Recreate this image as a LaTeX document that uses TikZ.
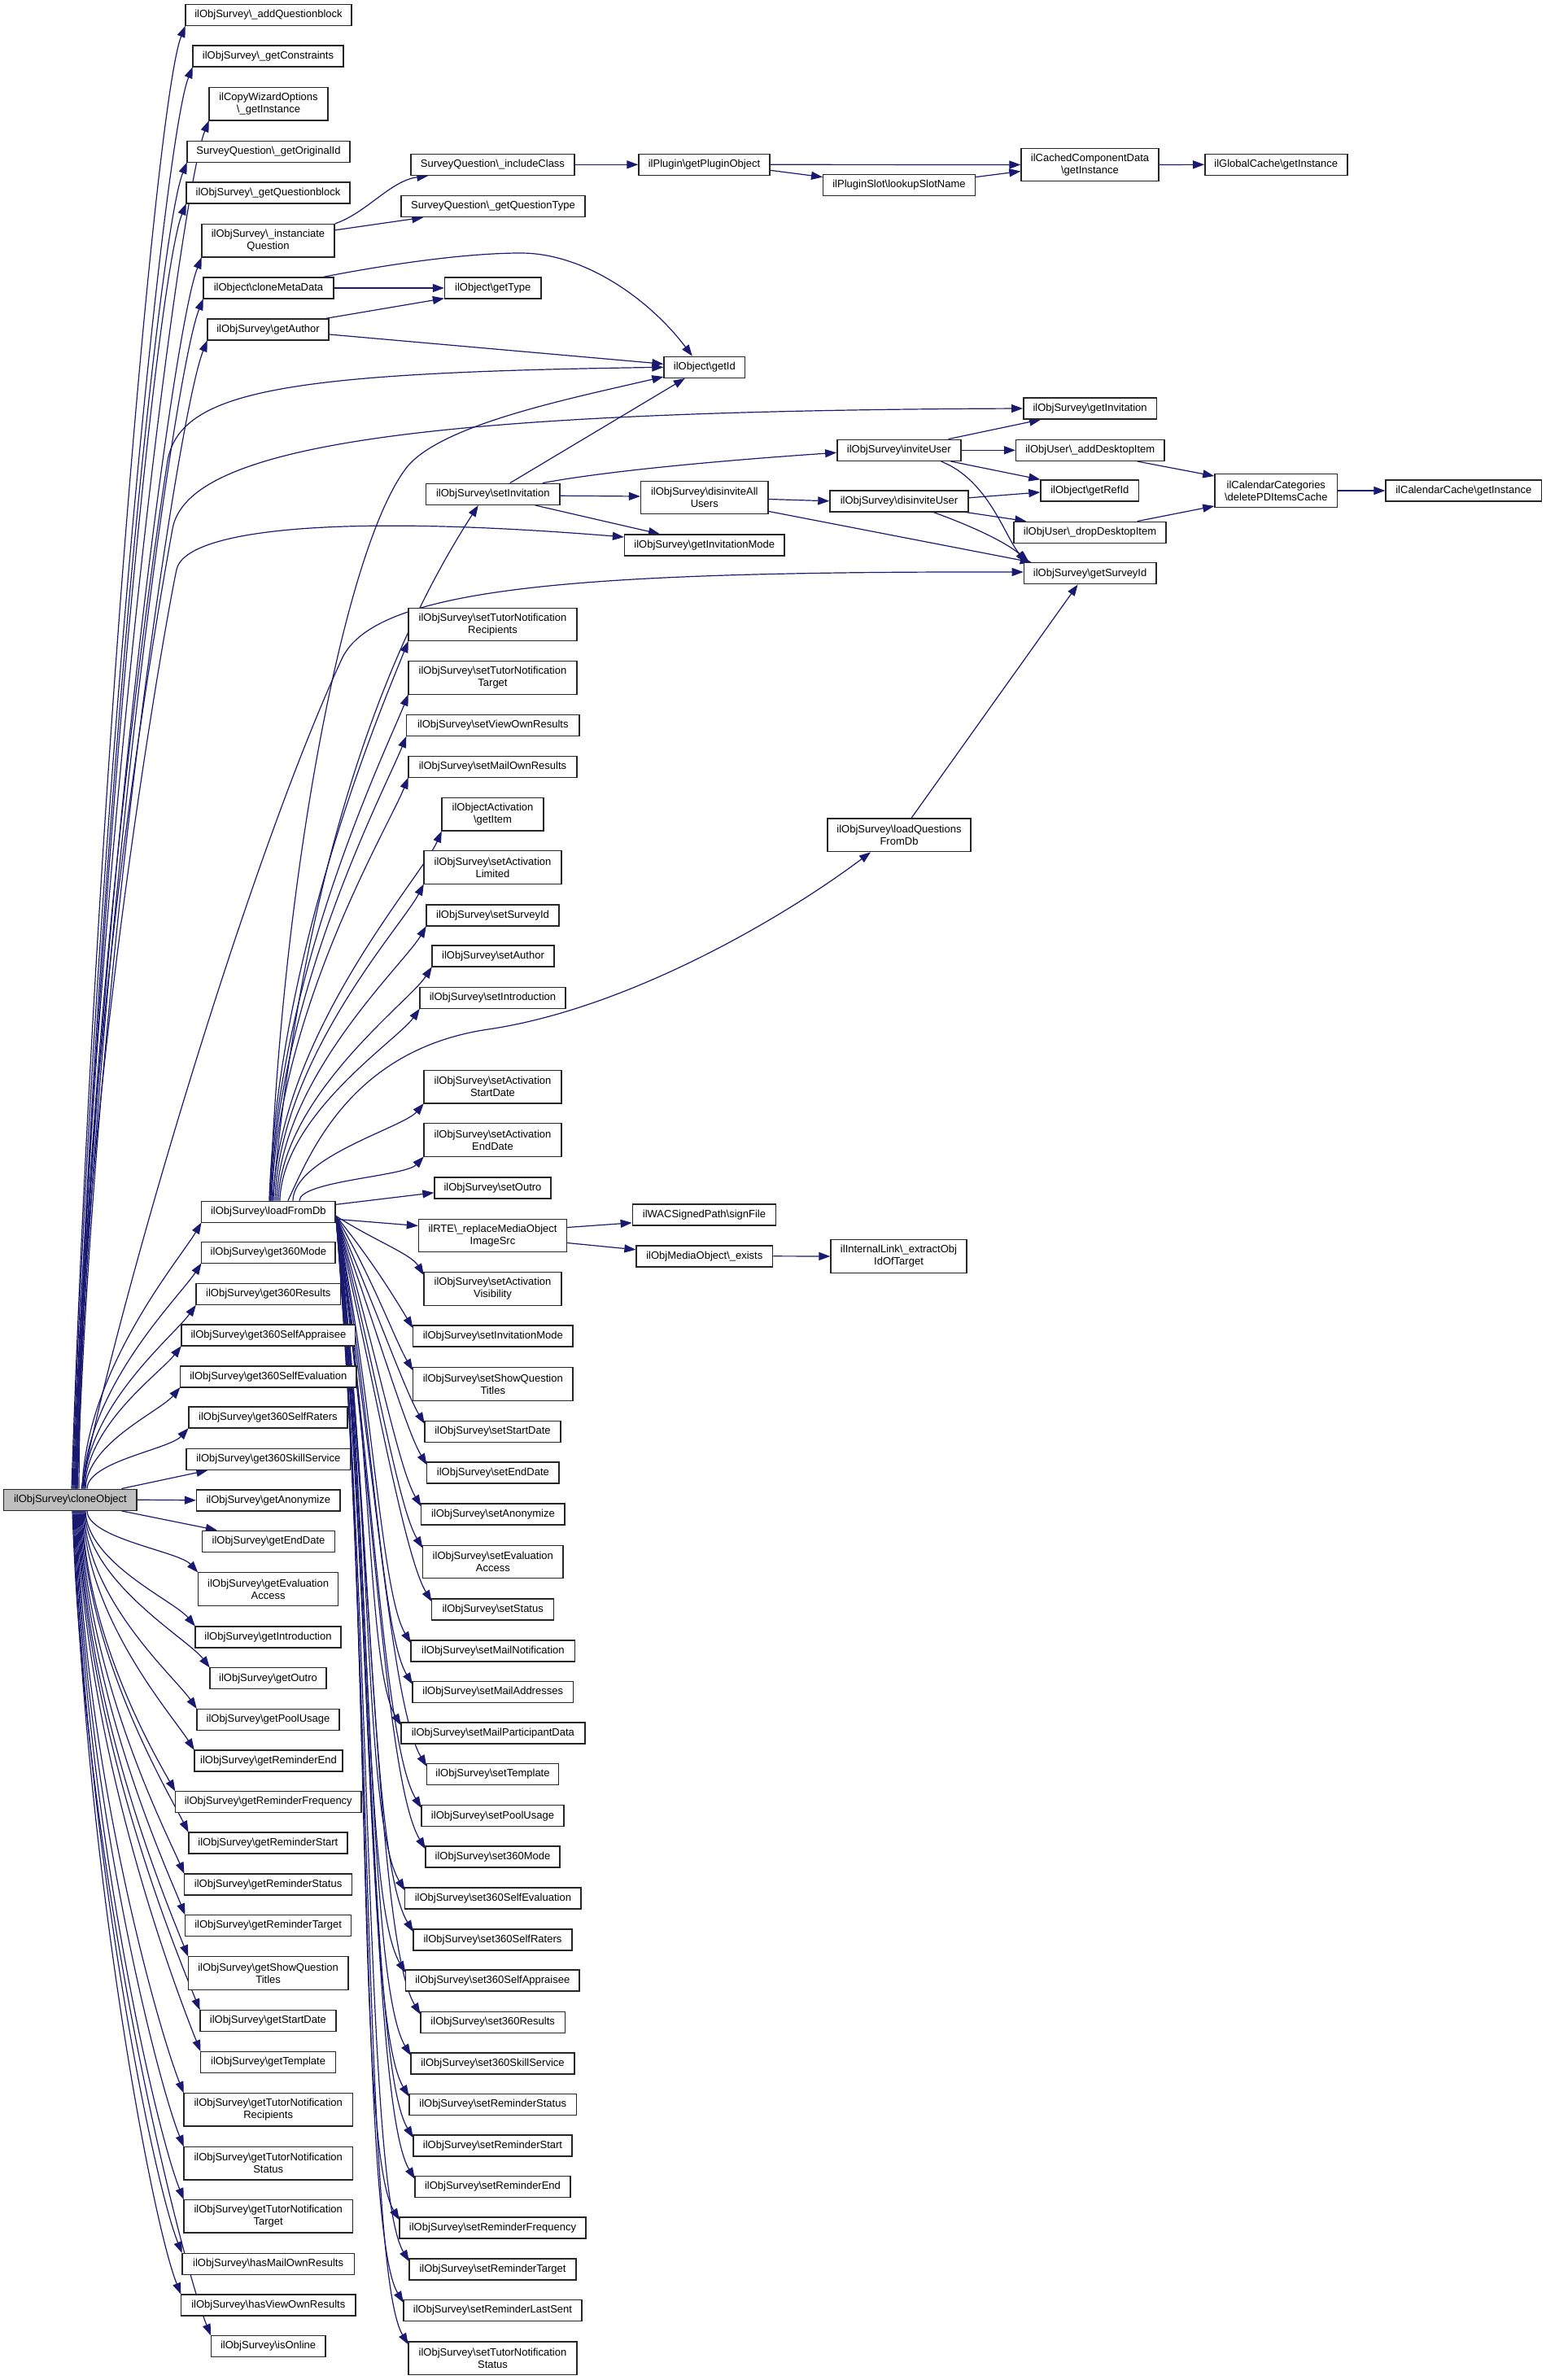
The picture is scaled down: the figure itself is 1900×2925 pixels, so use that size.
\documentclass[tikz,border=0pt]{standalone}
\usepackage{fontspec}
\setmainfont{Liberation Sans}
\usetikzlibrary{arrows.meta,calc}
\pgfdeclarelayer{back}
\pgfdeclarelayer{edges}
\pgfsetlayers{back,edges,main}
\newcommand{\bsl}{\textbackslash}
\definecolor{edgec}{HTML}{191970}
\newcommand{\upE}[2]{\draw[dedge] let \p1=(#1), \p2=([xshift=0.5pt,yshift=0.5pt]#2.south west), \n1={\y2-\y1}, \n2={min(0.08*\n1+20,90)}, \n3={max(0.4,1-\n1/800)} in (\p1) .. controls ({\x1+0.015*\n1},{\y1+0.45*\n1}) and ({\x2-\n3*\n2},{\y2-\n2}) .. (\p2);}
\newcommand{\dnE}[2]{\draw[dedge] let \p1=(#1), \p2=([xshift=0.5pt,yshift=-0.5pt]#2.north west), \n1={\y1-\y2}, \n2={min(0.08*\n1+20,90)}, \n3={max(0.4,1-\n1/800)} in (\p1) .. controls ({\x1+0.015*\n1},{\y1-0.45*\n1}) and ({\x2-\n3*\n2},{\y2+\n2}) .. (\p2);}
\newcommand{\dnF}[2]{\draw[dedge] let \p1=(#1), \p2=([xshift=0.5pt,yshift=-4pt]#2.north west), \n1={\y1-\y2}, \n2={min(0.08*\n1+20,90)} in (\p1) .. controls ({\x1+45},{\y1-0.4*\n1}) and ({\x2-0.6*\n2},{\y2+\n2}) .. (\p2);}
\begin{document}
\begin{tikzpicture}[x=1pt,y=1pt,
  nb/.style={draw=black!85, line width=1.4pt, fill=white, rectangle, inner sep=0pt, minimum height=26pt, align=center, font=\fontsize{13}{15}\selectfont},
  nb2/.style={nb, minimum height=40.5pt},
  dedge/.style={draw=edgec, line width=1.2pt, -{Triangle[length=14pt,width=10pt]}}]
\begin{pgfonlayer}{back}
\fill[white] (0,0) rectangle (1900,-2925);
\end{pgfonlayer}
\useasboundingbox (0,0) rectangle (1900,-2925);
% column 0
\node[nb, fill=black!25, minimum width=163.3pt] (clone) at (86.4,-1843.2) {ilObjSurvey\bsl cloneObject};
% column 1
\node[nb, minimum width=204pt] (aqb) at (330,-18.6) {ilObjSurvey\bsl\_addQuestionblock};
\node[nb, minimum width=185pt] (gcon) at (329.5,-69) {ilObjSurvey\bsl\_getConstraints};
\node[nb2, minimum width=146pt] (cwo) at (330,-127.8) {ilCopyWizardOptions\\\bsl\_getInstance};
\node[nb, minimum width=200pt] (goi) at (330,-186.3) {SurveyQuestion\bsl\_getOriginalId};
\node[nb, minimum width=201pt] (gqb) at (329.5,-237) {ilObjSurvey\bsl\_getQuestionblock};
\node[nb2, minimum width=163pt] (iq) at (329.5,-295.8) {ilObjSurvey\bsl\_instanciate\\Question};
\node[nb, minimum width=160pt] (cmd) at (330,-354) {ilObject\bsl cloneMetaData};
\node[nb, minimum width=149pt] (gau) at (329.5,-405) {ilObjSurvey\bsl getAuthor};
\node[nb, minimum width=164.3pt] (lfd) at (329.9,-1489.3) {ilObjSurvey\bsl loadFromDb};
\node[nb, minimum width=164.3pt] (g360m) at (329.9,-1539.2) {ilObjSurvey\bsl get360Mode};
\node[nb, minimum width=177.5pt] (g360r) at (329.8,-1590.6) {ilObjSurvey\bsl get360Results};
\node[nb, minimum width=213.7pt] (g360sa) at (329.9,-1641) {ilObjSurvey\bsl get360SelfAppraisee};
\node[nb, minimum width=216.4pt] (g360se) at (329.8,-1691.8) {ilObjSurvey\bsl get360SelfEvaluation};
\node[nb, minimum width=195.2pt] (g360sr) at (329.4,-1742) {ilObjSurvey\bsl get360SelfRaters};
\node[nb, minimum width=201.6pt] (g360ss) at (329.8,-1793.3) {ilObjSurvey\bsl get360SkillService};
\node[nb, minimum width=176.4pt] (gano) at (329.8,-1843.8) {ilObjSurvey\bsl getAnonymize};
\node[nb, minimum width=163pt] (gend) at (330,-1894.3) {ilObjSurvey\bsl getEndDate};
\node[nb2, minimum width=172.2pt] (gea) at (329.6,-1953) {ilObjSurvey\bsl getEvaluation\\Access};
\node[nb, minimum width=179pt] (gintro) at (329.5,-2011.8) {ilObjSurvey\bsl getIntroduction};
\node[nb, minimum width=143pt] (gout) at (329.5,-2062.7) {ilObjSurvey\bsl getOutro};
\node[nb, minimum width=175pt] (gpool) at (329.5,-2113.2) {ilObjSurvey\bsl getPoolUsage};
\node[nb, minimum width=182pt] (grend) at (330,-2164) {ilObjSurvey\bsl getReminderEnd};
\node[nb, minimum width=228.5pt] (grfreq) at (329.8,-2214.6) {ilObjSurvey\bsl getReminderFrequency};
\node[nb, minimum width=195.2pt] (grstart) at (329.4,-2265) {ilObjSurvey\bsl getReminderStart};
\node[nb, minimum width=205.8pt] (grstat) at (329.6,-2316) {ilObjSurvey\bsl getReminderStatus};
\node[nb, minimum width=203.9pt] (grtarg) at (329.6,-2366.6) {ilObjSurvey\bsl getReminderTarget};
\node[nb2, minimum width=196.4pt] (gsqt) at (329.6,-2425) {ilObjSurvey\bsl getShowQuestion\\Titles};
\node[nb, minimum width=167.2pt] (gsd) at (329.4,-2483.6) {ilObjSurvey\bsl getStartDate};
\node[nb, minimum width=165.8pt] (gtpl) at (329.6,-2534.4) {ilObjSurvey\bsl getTemplate};
\node[nb2, minimum width=207.4pt] (gtnr) at (329.7,-2592.8) {ilObjSurvey\bsl getTutorNotification\\Recipients};
\node[nb2, minimum width=207.4pt] (gtns) at (329.7,-2658.7) {ilObjSurvey\bsl getTutorNotification\\Status};
\node[nb2, minimum width=207.4pt] (gtnt) at (329.7,-2723.6) {ilObjSurvey\bsl getTutorNotification\\Target};
\node[nb, minimum width=211.3pt] (hmor) at (329.6,-2782.2) {ilObjSurvey\bsl hasMailOwnResults};
\node[nb, minimum width=214.5pt] (hvor) at (329.8,-2832.8) {ilObjSurvey\bsl hasViewOwnResults};
\node[nb, minimum width=140.7pt] (isol) at (329.6,-2883.5) {ilObjSurvey\bsl isOnline};
% column 2
\node[nb, minimum width=201pt] (sqic) at (605.5,-202.3) {SurveyQuestion\bsl\_includeClass};
\node[nb, minimum width=226pt] (sqgt) at (606,-253.5) {SurveyQuestion\bsl\_getQuestionType};
\node[nb, minimum width=118.5pt] (gtype) at (605.8,-354) {ilObject\bsl getType};
\node[nb, minimum width=164.5pt] (sinv) at (605.8,-607.3) {ilObjSurvey\bsl setInvitation};
\node[nb2, minimum width=207pt] (stnr) at (605.5,-767.5) {ilObjSurvey\bsl setTutorNotification\\Recipients};
\node[nb2, minimum width=207pt] (stnt) at (605.5,-833) {ilObjSurvey\bsl setTutorNotification\\Target};
\node[nb, minimum width=212.5pt] (svor) at (605.8,-891.6) {ilObjSurvey\bsl setViewOwnResults};
\node[nb, minimum width=207pt] (smor) at (605.5,-942.3) {ilObjSurvey\bsl setMailOwnResults};
\node[nb2, minimum width=125pt] (oagi) at (605.5,-1000.9) {ilObjectActivation\\\bsl getItem};
\node[nb2, minimum width=169pt] (sal) at (605.5,-1066) {ilObjSurvey\bsl setActivation\\Limited};
\node[nb, minimum width=163pt] (ssid) at (605.5,-1125) {ilObjSurvey\bsl setSurveyId};
\node[nb, minimum width=150pt] (sauth) at (606,-1175) {ilObjSurvey\bsl setAuthor};
\node[nb, minimum width=179pt] (sintro) at (605.5,-1226.5) {ilObjSurvey\bsl setIntroduction};
\node[nb2, minimum width=169pt] (sasd) at (605.5,-1335.7) {ilObjSurvey\bsl setActivation\\StartDate};
\node[nb2, minimum width=169pt] (saed) at (605.5,-1401) {ilObjSurvey\bsl setActivation\\EndDate};
\node[nb, minimum width=143pt] (sout) at (605.5,-1459.8) {ilObjSurvey\bsl setOutro};
\node[nb2, minimum width=182pt] (rte) at (605.5,-1518.5) {ilRTE\bsl\_replaceMediaObject\\ImageSrc};
\node[nb2, minimum width=169pt] (sav) at (605.5,-1584) {ilObjSurvey\bsl setActivation\\Visibility};
\node[nb, minimum width=196.5pt] (sim) at (605.8,-1641.8) {ilObjSurvey\bsl setInvitationMode};
\node[nb2, minimum width=196.5pt] (ssqt) at (605.8,-1701) {ilObjSurvey\bsl setShowQuestion\\Titles};
\node[nb, minimum width=167pt] (ssd) at (605.5,-1759.6) {ilObjSurvey\bsl setStartDate};
\node[nb, minimum width=162.3pt] (sed) at (605.9,-1810) {ilObjSurvey\bsl setEndDate};
\node[nb, minimum width=176.3pt] (sano) at (605.9,-1861) {ilObjSurvey\bsl setAnonymize};
\node[nb2, minimum width=172.4pt] (sea) at (605.8,-1919.5) {ilObjSurvey\bsl setEvaluation\\Access};
\node[nb, minimum width=150pt] (sstat) at (605.7,-1978) {ilObjSurvey\bsl setStatus};
\node[nb, minimum width=201.7pt] (smn) at (605.9,-2028.9) {ilObjSurvey\bsl setMailNotification};
\node[nb, minimum width=197.4pt] (sma) at (605.7,-2079.5) {ilObjSurvey\bsl setMailAddresses};
\node[nb, minimum width=225.8pt] (smpd) at (605.9,-2130) {ilObjSurvey\bsl setMailParticipantData};
\node[nb, minimum width=162pt] (stpl) at (605.5,-2180.5) {ilObjSurvey\bsl setTemplate};
\node[nb, minimum width=175pt] (spool) at (605.5,-2231.7) {ilObjSurvey\bsl setPoolUsage};
\node[nb, minimum width=165pt] (s360m) at (605.5,-2282) {ilObjSurvey\bsl set360Mode};
\node[nb, minimum width=216.3pt] (s360se) at (605.9,-2333) {ilObjSurvey\bsl set360SelfEvaluation};
\node[nb, minimum width=195pt] (s360sr) at (605.5,-2383.8) {ilObjSurvey\bsl set360SelfRaters};
\node[nb, minimum width=213.4pt] (s360sa) at (605.3,-2434) {ilObjSurvey\bsl set360SelfAppraisee};
\node[nb, minimum width=177.8pt] (s360r) at (605.7,-2485.3) {ilObjSurvey\bsl set360Results};
\node[nb, minimum width=201pt] (s360ss) at (605.5,-2535.8) {ilObjSurvey\bsl set360SkillService};
\node[nb, minimum width=205.8pt] (srstat) at (605.7,-2586.3) {ilObjSurvey\bsl setReminderStatus};
\node[nb, minimum width=195pt] (srstart) at (605.5,-2637) {ilObjSurvey\bsl setReminderStart};
\node[nb, minimum width=191pt] (srend) at (605.5,-2687.6) {ilObjSurvey\bsl setReminderEnd};
\node[nb, minimum width=229pt] (srfreq) at (605.5,-2738) {ilObjSurvey\bsl setReminderFrequency};
\node[nb, minimum width=205pt] (srtarg) at (605.5,-2789) {ilObjSurvey\bsl setReminderTarget};
\node[nb, minimum width=219pt] (srls) at (605.5,-2839.6) {ilObjSurvey\bsl setReminderLastSent};
\node[nb2, minimum width=207pt] (stns) at (605.5,-2898.3) {ilObjSurvey\bsl setTutorNotification\\Status};
% column 3
\node[nb, minimum width=161pt] (gpo) at (865.5,-202.3) {ilPlugin\bsl getPluginObject};
\node[nb, minimum width=99.5pt] (gid) at (865.8,-451.3) {ilObject\bsl getId};
\node[nb2, minimum width=156.4pt] (dau) at (865.8,-611.5) {ilObjSurvey\bsl disinviteAll\\Users};
\node[nb, minimum width=196.4pt] (gim) at (865.8,-670) {ilObjSurvey\bsl getInvitationMode};
\node[nb, minimum width=176.4pt] (wac) at (865.5,-1492.8) {ilWACSignedPath\bsl signFile};
\node[nb, minimum width=167.5pt] (mex) at (865.8,-1543.8) {ilObjMediaObject\bsl\_exists};
% column 4
\node[nb, minimum width=186.6pt] (lsn) at (1105,-227.6) {ilPluginSlot\bsl lookupSlotName};
\node[nb, minimum width=152pt] (iu) at (1104.8,-553.3) {ilObjSurvey\bsl inviteUser};
\node[nb, minimum width=170pt] (du) at (1105,-615.8) {ilObjSurvey\bsl disinviteUser};
\node[nb2, minimum width=176pt] (lqfd) at (1105,-1026.4) {ilObjSurvey\bsl loadQuestions\\FromDb};
\node[nb2, minimum width=167pt] (ilx) at (1104.5,-1544) {ilInternalLink\bsl\_extractObj\\IdOfTarget};
% column 5
\node[nb2, minimum width=169pt] (ccd) at (1339.5,-202.5) {ilCachedComponentData\\\bsl getInstance};
\node[nb, minimum width=163.6pt] (ginv) at (1339.6,-502) {ilObjSurvey\bsl getInvitation};
\node[nb, minimum width=182.3pt] (uadd) at (1339.8,-553.3) {ilObjUser\bsl\_addDesktopItem};
\node[nb, minimum width=120.6pt] (grid) at (1339.3,-603) {ilObject\bsl getRefId};
\node[nb, minimum width=187pt] (udrop) at (1339.5,-654.3) {ilObjUser\bsl\_dropDesktopItem};
\node[nb, minimum width=162.4pt] (gsid) at (1339.6,-704.7) {ilObjSurvey\bsl getSurveyId};
% column 6, 7
\node[nb, minimum width=175pt] (glc) at (1568.3,-202.3) {ilGlobalCache\bsl getInstance};
\node[nb2, minimum width=150.8pt] (ccat) at (1568.3,-603) {ilCalendarCategories\\\bsl deletePDItemsCache};
\node[nb, minimum width=191.6pt] (ccache) at (1798.8,-603) {ilCalendarCache\bsl getInstance};

\begin{pgfonlayer}{edges}
% ---- edges from cloneObject ----
\upE{[xshift=1.6pt]clone.north}{aqb}
\upE{[xshift=2.6pt]clone.north}{gcon}
\upE{[xshift=3.6pt]clone.north}{cwo}
\upE{[xshift=4.6pt]clone.north}{goi}
\upE{[xshift=5.6pt]clone.north}{gqb}
\upE{[xshift=6.6pt]clone.north}{iq}
\upE{[xshift=7.6pt]clone.north}{cmd}
\upE{[xshift=8.6pt]clone.north}{gau}
\upE{[xshift=14.6pt]clone.north}{lfd}
\upE{[xshift=15.6pt]clone.north}{g360m}
\upE{[xshift=16.6pt]clone.north}{g360r}
\upE{[xshift=17.6pt]clone.north}{g360sa}
\upE{[xshift=18.6pt]clone.north}{g360se}
\upE{[xshift=20.6pt]clone.north}{g360sr}
\draw[dedge] ([xshift=63pt]clone.north) -- ([xshift=27pt]g360ss.south west);
\draw[dedge] (clone.east) -- (gano.west);
\draw[dedge] ([xshift=63pt]clone.south) -- ([xshift=19pt]gend.north west);
\dnE{[xshift=20.6pt]clone.south}{gea}
\dnE{[xshift=18.6pt]clone.south}{gintro}
\dnE{[xshift=17.6pt]clone.south}{gout}
\dnE{[xshift=16.6pt]clone.south}{gpool}
\dnE{[xshift=15.6pt]clone.south}{grend}
\dnE{[xshift=14.6pt]clone.south}{grfreq}
\dnE{[xshift=13.6pt]clone.south}{grstart}
\dnE{[xshift=12.6pt]clone.south}{grstat}
\dnE{[xshift=11.6pt]clone.south}{grtarg}
\dnE{[xshift=10.6pt]clone.south}{gsqt}
\dnE{[xshift=9.6pt]clone.south}{gsd}
\dnE{[xshift=8.6pt]clone.south}{gtpl}
\dnE{[xshift=7.6pt]clone.south}{gtnr}
\dnE{[xshift=6.6pt]clone.south}{gtns}
\dnE{[xshift=5.6pt]clone.south}{gtnt}
\dnE{[xshift=4.6pt]clone.south}{hmor}
\dnE{[xshift=3.6pt]clone.south}{hvor}
\dnE{[xshift=2.6pt]clone.south}{isol}
\draw[dedge] ([xshift=10.6pt]clone.north) .. controls (100,-1300) and (185,-700) .. (206,-566) .. controls (222,-480) and (350,-458) .. (gid.west);
\draw[dedge] ([xshift=8.6pt]clone.north) .. controls (100,-1300) and (185,-800) .. (212,-650) .. controls (230,-550) and (500,-505) .. (ginv.west);
\draw[dedge] ([xshift=6.6pt]clone.north) .. controls (100,-1350) and (202,-770) .. (217,-700) .. controls (227,-653) and (400,-630) .. ([yshift=10pt]gim.west);
\draw[dedge] ([xshift=13.6pt]clone.north) .. controls (140,-1620) and (300,-1070) .. (420,-810) .. controls (460,-723) and (700,-702) .. ([yshift=1.7pt]gsid.west);

% ---- top chain ----
\draw[dedge] (iq.north east) .. controls (450,-262) and (480,-222) .. ([xshift=22pt]sqic.south west);
\draw[dedge] ([yshift=-8pt]iq.north east) -- ([xshift=28pt]sqgt.south west);
\draw[dedge] (sqic.east) -- (gpo.west);
\draw[dedge] (gpo.east) -- (ccd.west);
\draw[dedge] ([yshift=-7pt]gpo.east) -- ([yshift=10pt]lsn.west);
\draw[dedge] ([yshift=10pt]lsn.east) -- ([yshift=-8pt]ccd.west);
\draw[dedge] (ccd.east) -- (glc.west);
\draw[dedge] (cmd.east) -- (gtype.west);
\draw[dedge] ([xshift=-13pt]cmd.north east) .. controls (450,-330) and (560,-311) .. (640,-311) .. controls (720,-311) and (800,-370) .. ([xshift=-15pt]gid.north);
\draw[dedge] ([xshift=-4pt]gau.north east) -- ([yshift=1pt]gtype.south west);
\draw[dedge] ([yshift=-6pt]gau.east) -- ([yshift=4pt]gid.west);

% ---- setInvitation and friends ----
\draw[dedge] ([xshift=21pt]sinv.north) -- ([xshift=-24pt]gid.south);
\draw[dedge] ([xshift=-22pt]sinv.north east) .. controls (750,-578) and (900,-565) .. ([yshift=-3pt]iu.west);
\draw[dedge] ([yshift=-2pt]sinv.east) -- ([yshift=1.5pt]dau.west);
\draw[dedge] ([xshift=-31pt]sinv.south east) -- ([xshift=44pt]gim.north west);
\draw[dedge] ([yshift=-2pt]dau.east) -- (du.west);
\draw[dedge] ([yshift=4pt]dau.south east) -- ([xshift=10pt]gsid.north west);
\draw[dedge] ([xshift=-16pt]iu.north east) -- ([xshift=22pt]ginv.south west);
\draw[dedge] (iu.east) -- (uadd.west);
\draw[dedge] ([xshift=-13pt]iu.south east) -- (grid.north west);
\draw[dedge] ([xshift=-25pt]iu.south east) .. controls (1215,-590) and (1235,-660) .. ([xshift=4pt]gsid.north west);
\draw[dedge] ([yshift=4pt]du.east) -- ([yshift=-2pt]grid.west);
\draw[dedge] ([xshift=-4pt]du.south east) -- ([xshift=16pt]udrop.north west);
\draw[dedge] ([xshift=42pt]du.south) .. controls (1190,-645) and (1235,-665) .. ([xshift=7pt]gsid.north west);
\draw[dedge] ([xshift=-34pt]uadd.south east) -- ([yshift=-3pt]ccat.north west);
\draw[dedge] ([xshift=-36pt]udrop.north east) -- ([yshift=2pt]ccat.south west);
\draw[dedge] (ccat.east) -- (ccache.west);

% ---- loadFromDb ----
\draw[dedge] ([xshift=2pt]lfd.north) .. controls (345,-1100) and (420,-680) .. (499,-575.5) .. controls (540,-522) and (700,-490) .. ([yshift=2pt]gid.south west);
\draw[dedge] ([xshift=5pt]lfd.north) .. controls (365,-1150) and (440,-850) .. ([xshift=-18pt]sinv.south);
\draw[dedge] ([xshift=24pt]lfd.north) .. controls (380,-1420) and (430,-1290) .. (600,-1265) .. controls (770,-1240) and (960,-1130) .. ([xshift=-35pt]lqfd.south);
\draw[dedge] ([xshift=15pt]lqfd.north) -- ([xshift=-15pt]gsid.south);
\upE{[xshift=1pt]lfd.north}{stnr}
\upE{[xshift=2pt]lfd.north}{stnt}
\upE{[xshift=3pt]lfd.north}{svor}
\upE{[xshift=4pt]lfd.north}{smor}
\upE{[xshift=6pt]lfd.north}{oagi}
\upE{[xshift=8pt]lfd.north}{sal}
\upE{[xshift=10pt]lfd.north}{ssid}
\upE{[xshift=12pt]lfd.north}{sauth}
\upE{[xshift=14pt]lfd.north}{sintro}
\upE{[xshift=30pt]lfd.north}{sasd}
\upE{[xshift=38pt]lfd.north}{saed}
\draw[dedge] ([yshift=9pt]lfd.east) -- ([yshift=-6pt]sout.west);
\draw[dedge] ([yshift=-9pt]lfd.east) -- ([yshift=12pt]rte.west);
\dnF{[yshift=-5pt]lfd.east}{sav}
\dnF{[yshift=-5pt]lfd.east}{sim}
\dnF{[yshift=-5pt]lfd.east}{ssqt}
\dnF{[yshift=-5pt]lfd.east}{ssd}
\dnF{[yshift=-5pt]lfd.east}{sed}
\dnF{[yshift=-5pt]lfd.east}{sano}
\dnF{[yshift=-5pt]lfd.east}{sea}
\dnF{[yshift=-5pt]lfd.east}{sstat}
\dnF{[yshift=-5pt]lfd.east}{smn}
\dnF{[yshift=-5pt]lfd.east}{sma}
\dnF{[yshift=-5pt]lfd.east}{smpd}
\dnF{[yshift=-5pt]lfd.east}{stpl}
\dnF{[yshift=-5pt]lfd.east}{spool}
\dnF{[yshift=-5pt]lfd.east}{s360m}
\dnF{[yshift=-5pt]lfd.east}{s360se}
\dnF{[yshift=-5pt]lfd.east}{s360sr}
\dnF{[yshift=-5pt]lfd.east}{s360sa}
\dnF{[yshift=-5pt]lfd.east}{s360r}
\dnF{[yshift=-5pt]lfd.east}{s360ss}
\dnF{[yshift=-5pt]lfd.east}{srstat}
\dnF{[yshift=-5pt]lfd.east}{srstart}
\dnF{[yshift=-5pt]lfd.east}{srend}
\dnF{[yshift=-5pt]lfd.east}{srfreq}
\dnF{[yshift=-5pt]lfd.east}{srtarg}
\dnF{[yshift=-5pt]lfd.east}{srls}
\dnF{[yshift=-5pt]lfd.east}{stns}

% ---- RTE ----
\draw[dedge] ([yshift=10pt]rte.east) -- ([yshift=-10pt]wac.west);
\draw[dedge] ([yshift=-9pt]rte.east) -- ([yshift=8pt]mex.west);
\draw[dedge] (mex.east) -- (ilx.west);
\end{pgfonlayer}
\end{tikzpicture}
\end{document}
